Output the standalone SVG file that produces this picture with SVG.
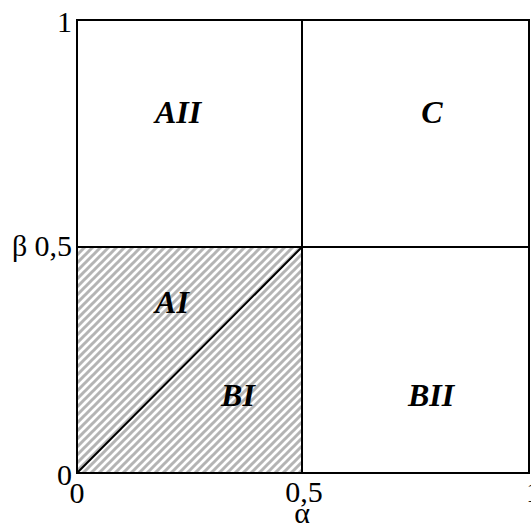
<svg xmlns="http://www.w3.org/2000/svg" width="531" height="531" viewBox="0 0 531 531">
<style>
.ax{font-family:'Liberation Serif','Times New Roman',serif;font-size:30px;fill:#000}
.rg{font-family:'Liberation Serif','Times New Roman',serif;font-size:32px;font-weight:bold;font-style:italic;text-anchor:middle;fill:#000}
.ln{stroke:#000;stroke-width:2;fill:none}
</style>
<defs>
<pattern id="hatch" patternUnits="userSpaceOnUse" x="77" y="247" width="8" height="8">
<rect width="8" height="8" fill="#fff"/>
<path d="M-2,10 L10,-2 M-2,2 L2,-2 M6,10 L10,6" stroke="#b4b4b4" stroke-width="3"/>
</pattern>
</defs>
<rect x="0" y="0" width="531" height="531" fill="#fff"/>
<g id="hatched-region">
<rect x="77" y="247" width="225" height="226" fill="url(#hatch)"/>
</g>
<g id="connectors">
<rect class="ln" x="77" y="20" width="452" height="453"/>
<line class="ln" x1="302" y1="20" x2="302" y2="473"/>
<line class="ln" x1="77" y1="247" x2="529" y2="247"/>
<line class="ln" x1="77" y1="473" x2="302" y2="247"/>
</g>
<g id="region-AII"><text class="rg" x="178" y="123">AII</text></g>
<g id="region-C"><text class="rg" x="432" y="123">C</text></g>
<g id="region-AI"><text class="rg" x="172" y="313">AI</text></g>
<g id="region-BI"><text class="rg" x="238" y="406">BI</text></g>
<g id="region-BII"><text class="rg" x="431" y="406">BII</text></g>
<g id="axis-labels">
<text class="ax" x="72" y="32" text-anchor="end">1</text>
<text class="ax" x="12" y="256">β</text>
<text class="ax" x="72" y="256" text-anchor="end">0,5</text>
<text class="ax" x="72" y="485" text-anchor="end">0</text>
<text class="ax" x="77" y="503" text-anchor="middle">0</text>
<text class="ax" x="304" y="502" text-anchor="middle">0,5</text>
<text class="ax" x="302" y="523" text-anchor="middle">α</text>
<text class="ax" x="526" y="502">1</text>
</g>
</svg>
